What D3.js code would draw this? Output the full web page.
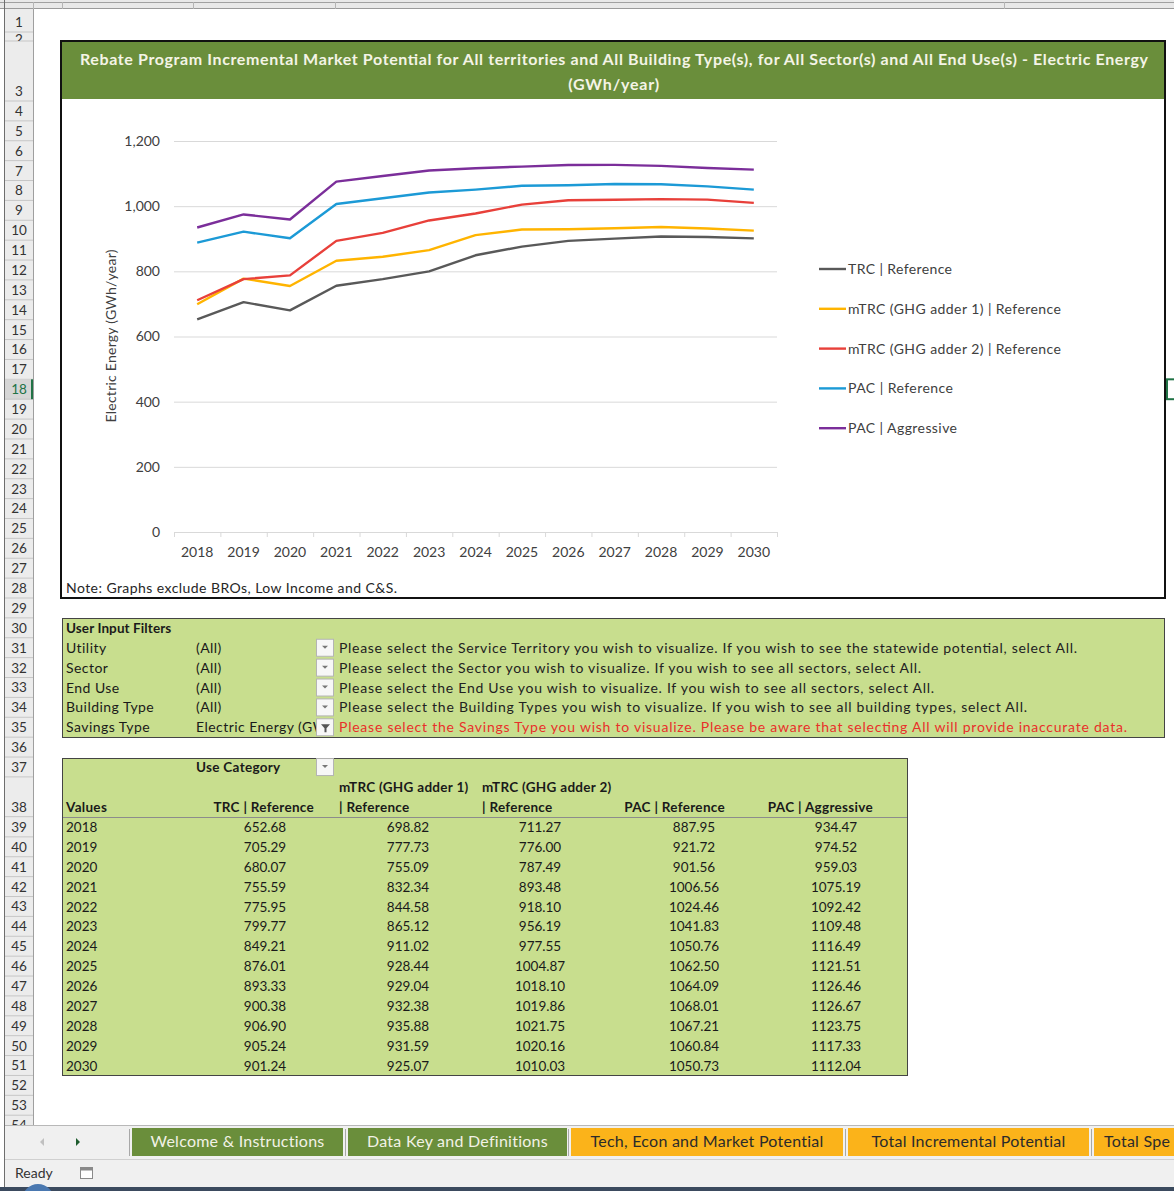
<!DOCTYPE html>
<html><head><meta charset="utf-8">
<script src="https://cdn.jsdelivr.net/npm/d3@7"></script>
<style>
body{margin:0;background:#fff}
svg{display:block}
text{font-family:Lato,'Open Sans',sans-serif}
</style>
</head><body>
<svg id="c" width="1174" height="1191"></svg>
<script>
// ---------------- data ----------------
const years = [2018,2019,2020,2021,2022,2023,2024,2025,2026,2027,2028,2029,2030];
const seriesNames = ["TRC | Reference","mTRC (GHG adder 1) | Reference","mTRC (GHG adder 2) | Reference","PAC | Reference","PAC | Aggressive"];
const trcRef   = [652.68,705.29,680.07,755.59,775.95,799.77,849.21,876.01,893.33,900.38,906.90,905.24,901.24];
const mtrc1Ref = [698.82,777.73,755.09,832.34,844.58,865.12,911.02,928.44,929.04,932.38,935.88,931.59,925.07];
const mtrc2Ref = [711.27,776.00,787.49,893.48,918.10,956.19,977.55,1004.87,1018.10,1019.86,1021.75,1020.16,1010.03];
const pacRef   = [887.95,921.72,901.56,1006.56,1024.46,1041.83,1050.76,1062.50,1064.09,1068.01,1067.21,1060.84,1050.73];
const pacAgg   = [934.47,974.52,959.03,1075.19,1092.42,1109.48,1116.49,1121.51,1126.46,1126.67,1123.75,1117.33,1112.04];
const yTicks = [0,200,400,600,800,1000,1200];
const titleLines = ["Rebate Program Incremental Market Potential for All territories and All Building Type(s), for All Sector(s) and All End Use(s) - Electric Energy","(GWh/year)"];
const yAxisTitle = "Electric Energy (GWh/year)";
const noteText = "Note: Graphs exclude BROs, Low Income and C&S.";
const filterLabels = ["Utility","Sector","End Use","Building Type","Savings Type"];
const filterValues = ["(All)","(All)","(All)","(All)","Electric Energy (GW"];
const filterNotes = [
 "Please select the Service Territory you wish to visualize. If you wish to see the statewide potential, select All.",
 "Please select the Sector you wish to visualize. If you wish to see all sectors, select All.",
 "Please select the End Use you wish to visualize. If you wish to see all sectors, select All.",
 "Please select the Building Types you wish to visualize. If you wish to see all building types, select All.",
 "Please select the Savings Type you wish to visualize. Please be aware that selecting All will provide inaccurate data."];
const tabNames = ["Welcome & Instructions","Data Key and Definitions","Tech, Econ and Market Potential","Total Incremental Potential","Total Spe"];

// ---------------- styles / layout ----------------
const colors = ["#595959","#FFB400","#E8403A","#1C9AD6","#7B2E9A"];
const green = "#6a8e3b", light = "#c8de8e";
const seriesData = [trcRef, mtrc1Ref, mtrc2Ref, pacRef, pacAgg];
const legendWidths = [104,213,213,105,109];
const noteWidths = [738,582,595,688,788];

const svg = d3.select("#c");
svg.append("rect").attr("width",1174).attr("height",1191).attr("fill","#fff");
const defs = svg.append("defs");

// ---------- sheet grid: rows ----------
function rowTop(n){
  if(n===1) return 12; if(n===2) return 32; if(n===3) return 41;
  if(n<=38) return 101+(n-4)*19.88;
  return 817+(n-39)*19.88;
}
function rowH(n){
  if(n===1) return 20; if(n===2) return 9; if(n===3) return 60; if(n===38) return 39.76;
  return 19.88;
}
svg.append("rect").attr("x",0).attr("y",0).attr("width",1174).attr("height",9).attr("fill","#e8e8e8");
svg.append("line").attr("x1",0).attr("x2",1174).attr("y1",2.5).attr("y2",2.5).attr("stroke","#a0a0a0");
svg.append("line").attr("x1",0).attr("x2",1174).attr("y1",8.5).attr("y2",8.5).attr("stroke","#9a9a9a");
[33,62,193,335,1004].forEach(x=>svg.append("line").attr("x1",x+0.5).attr("x2",x+0.5).attr("y1",2).attr("y2",9).attr("stroke","#b5b5b5"));

const rh = svg.append("g");
rh.append("rect").attr("x",5).attr("y",9).attr("width",28).attr("height",1116).attr("fill","#ececec");
d3.range(1,55).forEach(n=>{
  const t=rowTop(n), h=rowH(n);
  const sel = n===18;
  if(sel) rh.append("rect").attr("x",5).attr("y",t).attr("width",28).attr("height",h).attr("fill","#d6d6d6");
  rh.append("line").attr("x1",5).attr("x2",33).attr("y1",t+h).attr("y2",t+h).attr("stroke","#c6c6c6");
  const cid="rc"+n;
  defs.append("clipPath").attr("id",cid).append("rect").attr("x",5).attr("y",t).attr("width",28).attr("height",Math.min(h,1125-t));
  rh.append("text").attr("clip-path",`url(#${cid})`).attr("x",19).attr("y",n===2? t+12 : t+h-5)
    .attr("text-anchor","middle").attr("font-size",13.5).attr("fill",sel?"#217346":"#333").text(n);
  if(sel) rh.append("rect").attr("x",31).attr("y",t).attr("width",2).attr("height",h).attr("fill","#217346");
});
rh.append("line").attr("x1",33.5).attr("x2",33.5).attr("y1",9).attr("y2",1125).attr("stroke","#9f9f9f");
svg.append("line").attr("x1",4.5).attr("x2",4.5).attr("y1",0).attr("y2",1191).attr("stroke","#6e6e6e");
svg.append("rect").attr("x",1167).attr("y",rowTop(18)).attr("width",12).attr("height",19.88).attr("fill","none").attr("stroke","#217346").attr("stroke-width",2);

// ---------- chart ----------
const chart = svg.append("g");
chart.append("rect").attr("x",62).attr("y",42).attr("width",1102).attr("height",555).attr("fill","#fff");
chart.append("rect").attr("x",62).attr("y",42).attr("width",1102).attr("height",57).attr("fill",green);
chart.append("rect").attr("x",61).attr("y",41).attr("width",1104).attr("height",557).attr("fill","none").attr("stroke","#111").attr("stroke-width",2);
chart.append("text").attr("x",614).attr("y",65).attr("text-anchor","middle")
  .attr("font-size",16).attr("font-weight","bold").attr("fill","#f4f4e6")
  .attr("textLength",1068).attr("lengthAdjust","spacing").text(titleLines[0]);
chart.append("text").attr("x",614).attr("y",90).attr("text-anchor","middle")
  .attr("font-size",16).attr("font-weight","bold").attr("fill","#f4f4e6")
  .attr("letter-spacing",0.8).text(titleLines[1]);

const x = d3.scaleBand().domain(years).range([174,777]).paddingInner(0).paddingOuter(0);
const y = d3.scaleLinear().domain([0,1200]).range([532,141]);

const gy = chart.append("g").attr("transform","translate(174,0)")
  .call(d3.axisLeft(y).tickValues(yTicks).tickSize(-603).tickFormat(""));
gy.select(".domain").remove();
gy.selectAll(".tick line").attr("stroke","#d9d9d9");
const yl = chart.append("g").attr("transform","translate(160,0)")
  .call(d3.axisLeft(y).tickValues(yTicks).tickSize(0).tickPadding(0).tickFormat(d3.format(",")));
yl.select(".domain").remove();
yl.selectAll("text").attr("font-size",14).attr("fill","#404040").attr("font-family","Lato, sans-serif").attr("text-anchor","end");

const xa = chart.append("g").attr("transform","translate(0,532)")
  .call(d3.axisBottom(x).tickSize(0).tickPadding(15));
xa.select(".domain").attr("stroke","#d9d9d9");
xa.selectAll("text").attr("font-size",14).attr("fill","#404040").attr("font-family","Lato, sans-serif");
const bounds = years.map(v=>x(v)).concat([x(years[years.length-1])+x.bandwidth()]);
chart.append("g").selectAll("line").data(bounds).join("line")
  .attr("x1",d=>d+0.5).attr("x2",d=>d+0.5).attr("y1",532).attr("y2",537).attr("stroke","#d9d9d9");

const line = d3.line().x((d,i)=>x(years[i])+x.bandwidth()/2).y(d=>y(d));
chart.append("g").selectAll("path").data(seriesData).join("path")
  .attr("d",line).attr("fill","none").attr("stroke",(d,i)=>colors[i]).attr("stroke-width",2.4).attr("stroke-linejoin","round");

chart.append("text").attr("transform","translate(116,336) rotate(-90)").attr("text-anchor","middle")
  .attr("font-size",14).attr("fill","#404040").attr("textLength",173).attr("lengthAdjust","spacing").text(yAxisTitle);

const lg = chart.append("g").selectAll("g").data(seriesNames).join("g")
  .attr("transform",(d,i)=>`translate(819,${269+i*39.8})`);
lg.append("line").attr("x1",0).attr("x2",27).attr("stroke",(d,i)=>colors[i]).attr("stroke-width",2.4);
lg.append("text").attr("x",29).attr("y",5).attr("font-size",14).attr("fill","#404040")
  .attr("textLength",(d,i)=>legendWidths[i]).attr("lengthAdjust","spacing").text(d=>d);

chart.append("text").attr("x",66).attr("y",593).attr("font-size",14).attr("fill","#262626")
  .attr("textLength",331).attr("lengthAdjust","spacing").text(noteText);

// ---------- dropdown button helper ----------
function dropdown(g, x0, y0, filter){
  g.append("rect").attr("x",x0+0.5).attr("y",y0+0.5).attr("width",17).attr("height",17).attr("fill","#f7f7f7").attr("stroke","#b4b4b4");
  if(filter){
    g.append("path").attr("d",`M${x0+5},${y0+6} h9 l-3.5,4 v4 h-2 v-4 z`).attr("fill","#555");
  } else {
    g.append("path").attr("d",`M${x0+6},${y0+7} h6 l-3,3 z`).attr("fill","#777");
  }
}

// ---------- filters box ----------
const fb = svg.append("g");
fb.append("rect").attr("x",62.5).attr("y",618.5).attr("width",1102).attr("height",119).attr("fill",light).attr("stroke","#444");
fb.append("text").attr("x",66).attr("y",rowTop(30)+15).attr("font-size",13.5).attr("font-weight","bold").attr("fill","#1a1a1a").attr("letter-spacing",0.1).text("User Input Filters");
defs.append("clipPath").attr("id","fv").append("rect").attr("x",190).attr("y",600).attr("width",126).attr("height",150);
filterLabels.forEach((lab,i)=>{
  const t = rowTop(31+i);
  fb.append("text").attr("x",66).attr("y",t+15).attr("font-size",14).attr("fill","#1a1a1a").attr("letter-spacing",0.45).text(lab);
  fb.append("text").attr("x",196).attr("y",t+15).attr("font-size",14).attr("fill","#1a1a1a").attr("letter-spacing",0.45).attr("clip-path","url(#fv)").text(filterValues[i]);
  dropdown(fb,316,t+1,i===4);
  fb.append("text").attr("x",339).attr("y",t+15).attr("font-size",14).attr("fill",i===4?"#e8302a":"#222")
    .attr("textLength",noteWidths[i]).attr("lengthAdjust","spacing").text(filterNotes[i]);
});

// ---------- pivot table ----------
const tb = svg.append("g");
tb.append("rect").attr("x",62.5).attr("y",758.5).attr("width",845).attr("height",317).attr("fill",light).attr("stroke","#444");
tb.append("text").attr("x",196).attr("y",rowTop(37)+15).attr("font-size",13.5).attr("font-weight","bold").attr("fill","#1a1a1a").attr("letter-spacing",0.3).text("Use Category");
dropdown(tb,316,rowTop(37)+1,false);
const hb = rowTop(38)+39.76-5;
tb.append("text").attr("x",66).attr("y",hb).attr("font-size",13.5).attr("font-weight","bold").attr("fill","#1a1a1a").attr("letter-spacing",0.3).text("Values");
const headPos = [[314,"end"],[339,"start"],[482,"start"],[725,"end"],[873,"end"]];
seriesNames.forEach((nm,i)=>{
  const [hx,an]=headPos[i];
  const T = (yy,s,anchor)=>tb.append("text").attr("x",hx).attr("y",yy).attr("text-anchor",anchor)
      .attr("font-size",13.5).attr("font-weight","bold").attr("fill","#1a1a1a").attr("letter-spacing",0.3).text(s);
  if(an==="start"){
    const k = nm.indexOf(" |");
    T(hb-20, nm.slice(0,k), "start");
    T(hb, nm.slice(k+1), "start");
  } else T(hb, nm, "end");
});
tb.append("line").attr("x1",63).attr("x2",907).attr("y1",817.5).attr("y2",817.5).attr("stroke","#8c8c8c");
const colCenters = [265,408,540,694,836];
const fmt = d3.format(".2f");
years.forEach((yr,r)=>{
  const t = rowTop(39+r);
  tb.append("text").attr("x",66).attr("y",t+15).attr("font-size",13.5).attr("fill","#1a1a1a").text(yr);
  seriesData.forEach((s,c)=>{
    tb.append("text").attr("x",colCenters[c]).attr("y",t+15).attr("text-anchor","middle").attr("font-size",13.5).attr("fill","#1a1a1a").text(fmt(s[r]));
  });
});

// ---------- sheet tabs bar ----------
const tabsG = svg.append("g");
tabsG.append("rect").attr("x",5).attr("y",1125).attr("width",1169).attr("height",62).attr("fill","#f0f0f0");
tabsG.append("line").attr("x1",5).attr("x2",1174).attr("y1",1125.5).attr("y2",1125.5).attr("stroke","#b8b8b8");
tabsG.append("line").attr("x1",5).attr("x2",1174).attr("y1",1159.5).attr("y2",1159.5).attr("stroke","#d0d0d0");
tabsG.append("path").attr("d","M44,1138 l-4,4 l4,4 z").attr("fill","#c0c0c0");
tabsG.append("path").attr("d","M76,1138 l4,4 l-4,4 z").attr("fill","#1e5c2e");
const tabX = [[132,343],[348,567],[571,843],[848,1089],[1094,1190]];
tabX.forEach(([a,b],i)=>{
  tabsG.append("line").attr("x1",a-2.5).attr("x2",a-2.5).attr("y1",1129).attr("y2",1156).attr("stroke","#a8a8a8");
  tabsG.append("rect").attr("x",a).attr("y",1128).attr("width",b-a).attr("height",28).attr("fill",i<2?green:"#FBB31A");
  tabsG.append("text").attr("x",i===4?a+10:(a+b)/2).attr("y",1147).attr("text-anchor",i===4?"start":"middle")
    .attr("font-size",16).attr("letter-spacing",0.25).attr("fill",i<2?"#f2f2e6":"#2b2b2b").text(tabNames[i]);
});
tabsG.append("text").attr("x",15).attr("y",1178).attr("font-size",14).attr("fill","#333").text("Ready");
tabsG.append("rect").attr("x",80.5).attr("y",1167.5).attr("width",12).attr("height",11).attr("fill","#fff").attr("stroke","#8a8a8a");
tabsG.append("rect").attr("x",80.5).attr("y",1167.5).attr("width",12).attr("height",3).attr("fill","#8a8a8a");
svg.append("rect").attr("x",0).attr("y",1187).attr("width",1174).attr("height",4).attr("fill","#3b4a5e");
svg.append("circle").attr("cx",38).attr("cy",1200).attr("r",16).attr("fill","#4a78b0");
</script>
</body></html>
